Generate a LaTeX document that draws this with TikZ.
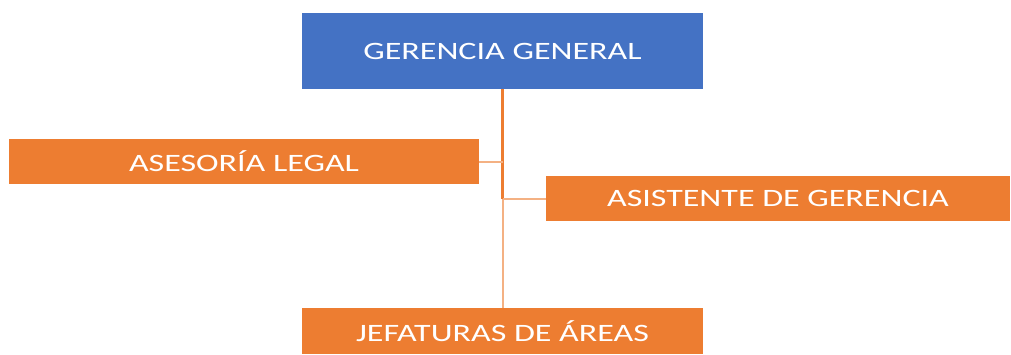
\documentclass[tikz,border=0pt]{standalone}
\usepackage{fontspec}
\setmainfont{Carlito}
\newfontfamily\boxfont[FakeStretch=1.36]{Carlito}
\definecolor{blueBox}{HTML}{4472C4}
\definecolor{orangeBox}{HTML}{ED7D31}
\definecolor{lightLine}{HTML}{F4B183}
\begin{document}
\begin{tikzpicture}[x=1pt,y=1pt,
  box/.style={rectangle, inner sep=0pt, text=white, font=\boxfont\fontsize{25}{29}\selectfont, anchor=center},
  bluebox/.style={box, fill=blueBox},
  orangebox/.style={box, fill=orangeBox},
  mainline/.style={draw=orangeBox, line width=2.5pt},
  stubline/.style={draw=lightLine, line width=2pt}]
\useasboundingbox (0,0) rectangle (1011,354);
\node[bluebox, minimum width=401, minimum height=76] (g) at (502.5,303) {GERENCIA GENERAL};
\node[orangebox, minimum width=470, minimum height=45] (a) at (244,192.5) {ASESORÍA LEGAL};
\node[orangebox, minimum width=464, minimum height=45] (s) at (778,155.5) {ASISTENTE DE GERENCIA};
\node[orangebox, minimum width=401, minimum height=46] (j) at (502.5,23) {JEFATURAS DE ÁREAS};
\coordinate (jn) at (s.west -| g.south);
\draw[mainline] (g.south) -- (jn);
\draw[stubline] (jn) -- (j.north);
\draw[stubline] (a.east) -- (a.east -| g.south);
\draw[stubline] (s.west) -- (jn);
\end{tikzpicture}
\end{document}
